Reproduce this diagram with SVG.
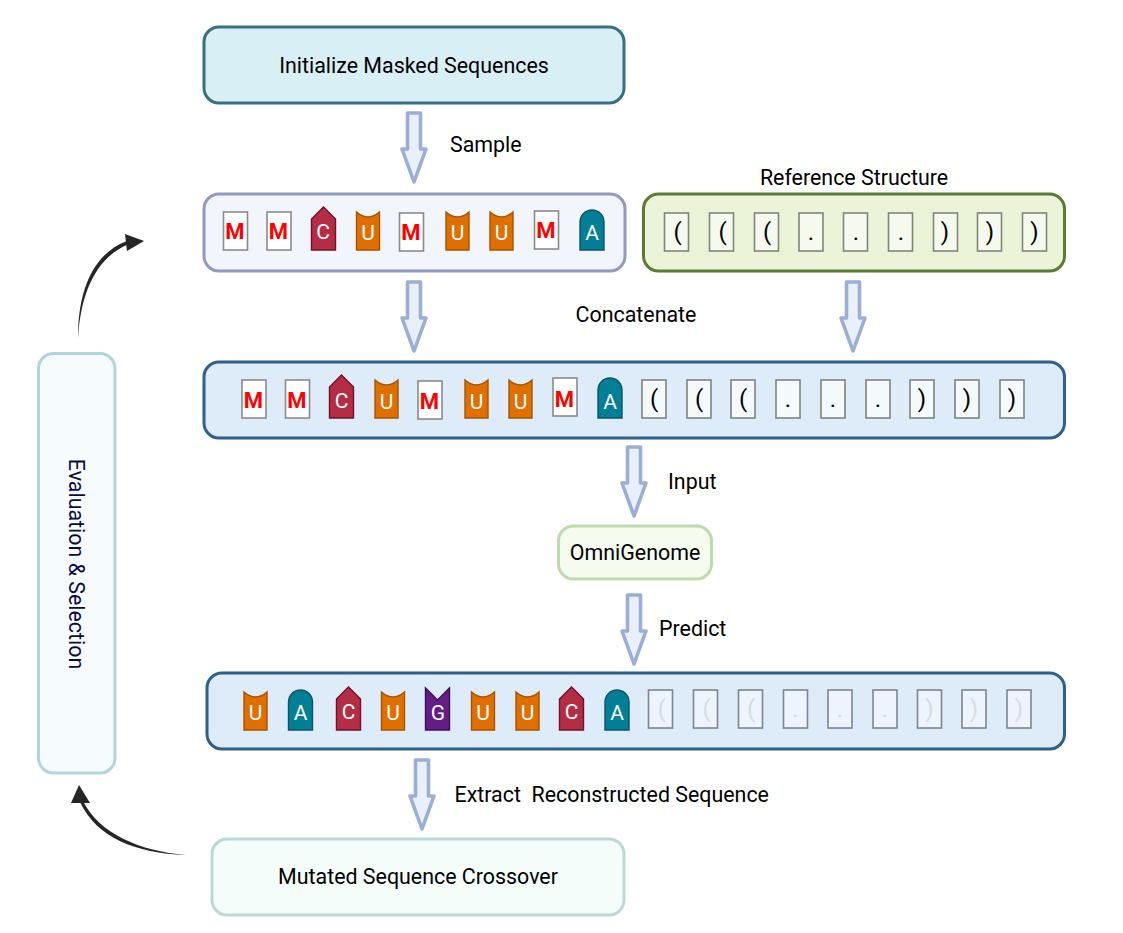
<svg xmlns="http://www.w3.org/2000/svg" width="1123" height="933" viewBox="0 0 1123 933">
<style>
text{font-family:Roboto,"Liberation Sans",sans-serif;fill:#000}
.lb{font-size:21.4px;text-anchor:middle}
.lbs{font-size:21.4px}
.box{stroke-width:3}
.b{font-size:21px;text-anchor:middle;fill:#fff}
.m{font-size:22px;font-weight:700;text-anchor:middle;fill:#f00}
.s{font-size:24px;text-anchor:middle;fill:#000}
.f{font-size:24px;text-anchor:middle;fill:#d4dce4}
.arr{fill:#e9f0fa;stroke:#9bafd6;stroke-width:3.6;stroke-linejoin:round}
.curve{fill:#262626}
</style>
<defs>
<rect id="mk" x="-12" y="-38" width="24" height="38" fill="#fff" stroke="#8a8a8a" stroke-width="1.6"/>
<rect id="st" x="-12" y="-38" width="24" height="38" fill="#f6faee" stroke="#7f8578" stroke-width="1.6"/>
<rect id="st2" x="-12" y="-38" width="24" height="38" fill="#f4f9fc" stroke="#7f8578" stroke-width="1.6"/>
<rect id="fd" x="-12" y="-38" width="24" height="38" fill="#edf4fd" stroke="#7c8590" stroke-width="1.6"/>
<path id="C" d="M-12 0V-31L0 -43L12 -31V0Z" fill="#b52d44" stroke="#701329" stroke-width="1.4"/>
<path id="U" d="M-11.500 0V-38Q0 -28 11.500 -38V0Z" fill="#e06f00" stroke="#a85400" stroke-width="1.4"/>
<path id="A" d="M-12 0V-28A12 12 0 0 1 12 -28V0Z" fill="#007f96" stroke="#0b5566" stroke-width="1.4"/>
<path id="G" d="M-12 0V-42L0 -30L12 -42V0Z" fill="#631d85" stroke="#3f0f58" stroke-width="1.4"/>
<path id="ar" class="arr" d="M-6.500 0H6.500V36H12L0 69L-12 36H-6.500Z"/>
</defs>

<g id="connectors">
<use href="#ar" x="414" y="113"/>
<use href="#ar" x="414" y="282"/>
<use href="#ar" x="853" y="282"/>
<use href="#ar" x="634" y="447"/>
<use href="#ar" x="634" y="595"/>
<use href="#ar" x="422" y="760"/>
<path class="curve" d="M78 338C78 292 92 254 127 241L128 244.500C96 258 81 292 78 338Z"/>
<path class="curve" d="M125 234L144 241L127 251Z"/>
<path class="curve" d="M186 855C135 853 97 838 80 802L83.500 802C100 834 140 851 186 855Z"/>
<path class="curve" d="M79 785L90 803L71 803Z"/>
</g>

<g id="node-init">
<rect class="box" x="204" y="27" width="420" height="76" rx="15" fill="#d9eff6" stroke="#38707f"/>
<text class="lb" x="414" y="72.500">Initialize Masked Sequences</text>
</g>

<g id="node-masked">
<rect class="box" x="204" y="194" width="421" height="77" rx="15" fill="#f2f5fb" stroke="#8e9abf"/>
<use href="#mk" x="235.500" y="250"/><text class="m" x="235" y="239">M</text>
<use href="#mk" x="279" y="250"/><text class="m" x="278.500" y="239">M</text>
<use href="#C" x="323.500" y="250"/><text class="b" x="323" y="239">C</text>
<use href="#U" x="368" y="250"/><text class="b" x="368" y="240">U</text>
<use href="#mk" x="411.500" y="251"/><text class="m" x="411" y="240">M</text>
<use href="#U" x="457.500" y="250"/><text class="b" x="457.500" y="240">U</text>
<use href="#U" x="501.500" y="250"/><text class="b" x="501.500" y="240">U</text>
<use href="#mk" x="546.500" y="249"/><text class="m" x="546" y="238">M</text>
<use href="#A" x="592" y="250"/><text class="b" x="592" y="240">A</text>
</g>

<g id="node-reference">
<rect class="box" x="643.500" y="194" width="421" height="77" rx="15" fill="#ebf4d9" stroke="#5c7a32"/>
<use href="#st" x="676.500" y="251"/><text class="s" x="677.500" y="240">(</text>
<use href="#st" x="721.500" y="251"/><text class="s" x="722.500" y="240">(</text>
<use href="#st" x="766.500" y="251"/><text class="s" x="767" y="240">(</text>
<use href="#st" x="811" y="251"/><text class="s" x="811" y="240">.</text>
<use href="#st" x="855.500" y="251"/><text class="s" x="856" y="240">.</text>
<use href="#st" x="900.500" y="251"/><text class="s" x="901" y="240">.</text>
<use href="#st" x="945.500" y="251"/><text class="s" x="945" y="240">)</text>
<use href="#st" x="989.500" y="251"/><text class="s" x="990" y="240">)</text>
<use href="#st" x="1034.500" y="251"/><text class="s" x="1034.500" y="240">)</text>
</g>

<g id="node-concat">
<rect class="box" x="204" y="362" width="860.500" height="76" rx="15" fill="#deebf8" stroke="#2f5f8b"/>
<use href="#mk" x="254" y="418"/><text class="m" x="253.500" y="408">M</text>
<use href="#mk" x="297.500" y="418"/><text class="m" x="297" y="408">M</text>
<use href="#C" x="341.500" y="418"/><text class="b" x="341.500" y="408">C</text>
<use href="#U" x="386.500" y="418"/><text class="b" x="386.500" y="409">U</text>
<use href="#mk" x="430" y="419"/><text class="m" x="429.500" y="409">M</text>
<use href="#U" x="476.500" y="418"/><text class="b" x="476.500" y="409">U</text>
<use href="#U" x="520.500" y="418"/><text class="b" x="520.500" y="409">U</text>
<use href="#mk" x="565" y="416"/><text class="m" x="564.500" y="407">M</text>
<use href="#A" x="610" y="418"/><text class="b" x="610" y="409">A</text>
<use href="#st2" x="654" y="418"/><text class="s" x="654" y="407">(</text>
<use href="#st2" x="699" y="418"/><text class="s" x="699" y="407">(</text>
<use href="#st2" x="743" y="418"/><text class="s" x="743" y="407">(</text>
<use href="#st2" x="788" y="418"/><text class="s" x="788" y="407">.</text>
<use href="#st2" x="833" y="418"/><text class="s" x="833" y="407">.</text>
<use href="#st2" x="878" y="418"/><text class="s" x="878" y="407">.</text>
<use href="#st2" x="922" y="418"/><text class="s" x="922" y="407">)</text>
<use href="#st2" x="967" y="418"/><text class="s" x="967" y="407">)</text>
<use href="#st2" x="1012" y="418"/><text class="s" x="1012" y="407">)</text>
</g>

<g id="node-omnigenome">
<rect class="box" x="558.500" y="526" width="153" height="53" rx="15" fill="#f6fbf0" stroke="#bcdcae"/>
<text class="lb" x="635" y="559.500">OmniGenome</text>
</g>

<g id="node-predicted">
<rect class="box" x="207" y="673" width="857.500" height="76" rx="15" fill="#deebf8" stroke="#2f5f8b"/>
<use href="#U" x="255.500" y="730"/><text class="b" x="255.500" y="720">U</text>
<use href="#A" x="300.500" y="730"/><text class="b" x="300.500" y="720">A</text>
<use href="#C" x="348.500" y="730"/><text class="b" x="348.500" y="719">C</text>
<use href="#U" x="393" y="730"/><text class="b" x="393" y="720">U</text>
<use href="#G" x="437.500" y="730"/><text class="b" x="438" y="720">G</text>
<use href="#U" x="483" y="730"/><text class="b" x="483" y="720">U</text>
<use href="#U" x="527.500" y="730"/><text class="b" x="527.500" y="720">U</text>
<use href="#C" x="571.500" y="730"/><text class="b" x="571.500" y="719">C</text>
<use href="#A" x="617" y="730"/><text class="b" x="617" y="720">A</text>
<use href="#fd" x="660.500" y="728"/><text class="f" x="661.500" y="717">(</text>
<use href="#fd" x="705.500" y="728"/><text class="f" x="706.500" y="717">(</text>
<use href="#fd" x="750.500" y="728"/><text class="f" x="751" y="717">(</text>
<use href="#fd" x="795.500" y="728"/><text class="f" x="795.500" y="717">.</text>
<use href="#fd" x="840" y="728"/><text class="f" x="840" y="717">.</text>
<use href="#fd" x="885" y="728"/><text class="f" x="885" y="717">.</text>
<use href="#fd" x="929.500" y="728"/><text class="f" x="929.500" y="717">)</text>
<use href="#fd" x="974" y="728"/><text class="f" x="974" y="717">)</text>
<use href="#fd" x="1019" y="728"/><text class="f" x="1019" y="717">)</text>
</g>

<g id="node-crossover">
<rect class="box" x="212" y="839" width="412" height="76" rx="15" fill="#f4fdfa" stroke="#bcd9d5"/>
<text class="lb" x="418" y="883.500">Mutated Sequence Crossover</text>
</g>

<g id="node-evaluation">
<rect class="box" x="38.500" y="353.500" width="76.500" height="419.500" rx="15" fill="#f6fbfe" stroke="#aed5e0"/>
<text class="lb" transform="translate(68.500 564) rotate(90)" style="fill:#0a0a3c">Evaluation &amp; Selection</text>
</g>

<g id="labels">
<text class="lbs" x="450" y="151.500">Sample</text>
<text class="lb" x="854" y="184.500">Reference Structure</text>
<text class="lb" x="636" y="321.500">Concatenate</text>
<text class="lbs" x="668" y="488.500">Input</text>
<text class="lbs" x="659" y="636">Predict</text>
<text class="lbs" x="454.500" y="801.500" xml:space="preserve">Extract  Reconstructed Sequence</text>
</g>
</svg>
